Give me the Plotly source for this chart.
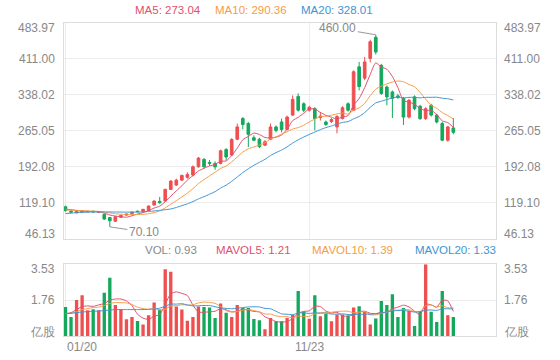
import plotly.graph_objects as go

# ---------------- data ----------------
opens = [111, 102, 98.5, 100.5, 100.5, 102, 99.5, 95.6, 89, 81.4,
         89.5, 94, 97, 102, 101.7, 103, 114.4, 121.9, 122.5, 146.2,
         155, 165, 170.6, 175.2, 192, 207, 201, 199, 199, 227,
         215.8, 248, 290, 280, 251, 248, 236, 248, 273, 283,
         268, 297, 335, 320, 307, 310, 292, 283, 284, 273,
         290, 320, 307, 395, 372, 412, 455, 398, 354, 344,
         336, 331, 293, 334, 315, 290, 317, 297, 280, 246, 271]
highs = [113, 103.5, 103, 103, 102.5, 102.5, 101.5, 97, 90, 91.5,
         94.5, 97, 101, 103, 106.5, 113.5, 124, 131, 147.5, 165,
         168, 176, 181, 195, 212, 210, 206, 203, 227, 230,
         250, 280, 293, 283, 256, 251, 246, 280, 276, 290,
         296, 337, 341, 323, 316, 313, 303, 286, 291, 297,
         315, 323, 388, 405, 415, 450, 460, 401, 357, 347,
         340, 334, 330, 337, 318, 313, 320, 300, 283, 275, 291]
lows = [101, 99.5, 98, 100, 99.5, 99.5, 98.5, 84, 70.1, 80,
        88.5, 93, 96.5, 100, 101, 102.5, 113.5, 117, 121.5, 145,
        153, 163.5, 168, 173, 190.5, 190, 194, 186, 197, 205,
        214, 246, 268, 232, 244, 230, 234, 246, 262, 262,
        266, 295, 304, 303, 304, 266, 286, 275, 281, 260,
        288, 304, 305, 347, 368, 404, 420, 338, 317, 291,
        330, 277, 290, 307, 287, 287, 294, 280, 244, 243, 258]
closes = [103, 100, 102, 102, 101.5, 100.5, 100.5, 86, 82.6, 90.7,
          93.5, 96, 100, 101, 105.7, 112.4, 122.5, 119.1, 146.2, 163,
          165, 174.6, 176.5, 192, 209.7, 192, 199, 192, 224.5, 212,
          247.6, 273, 278, 258, 246, 233, 243, 273, 266, 268,
          293, 329, 307, 307, 313, 290, 295, 278, 288, 294,
          312, 307, 385, 355, 405, 446, 425, 341, 334, 331,
          333, 293, 327, 310, 290, 310, 297, 283, 246, 273, 262]

ma5 = [106, 105, 103.5, 102, 101.7, 101.2, 101.3, 98, 94.2, 92.1,
       90.6, 89.8, 92.6, 96.2, 99.2, 103, 108.3, 112.1, 121.2, 132.6,
       143.2, 153.6, 165.1, 174.2, 183.6, 189, 193.8, 196.9, 203.4, 203.9,
       215, 229.8, 247, 253.7, 260.5, 257.6, 251.6, 250.6, 252.2, 256.6,
       268.6, 285.8, 292.6, 300.8, 309.8, 309.2, 302.4, 296.6, 292.8, 289,
       293.4, 295.8, 317.2, 330.6, 352.8, 379.6, 403.2, 394.4, 390.2, 375.4,
       352.8, 326.4, 323.6, 318.8, 310.6, 306, 306.8, 298, 285.2, 281.8, 272.2]
ma10 = [104.5, 104, 103.5, 103, 102.5, 102, 101.5, 100, 98.5, 96.8,
        95.8, 95.4, 95.2, 95.2, 95.6, 96.8, 99, 102.4, 108.8, 116,
        123.1, 131, 138.7, 147.7, 158.1, 166.1, 173.7, 181, 188.8, 193.7,
        202, 211.8, 222, 228.6, 232.2, 236.3, 240.7, 248.8, 253, 258.6,
        263.1, 268.7, 271.6, 276.5, 283.2, 288.9, 294.1, 294.6, 296.8, 299.4,
        301.3, 299.1, 306.9, 311.7, 320.9, 336.5, 349.5, 355.8, 360.4, 364.1,
        366.2, 364.8, 359, 354.5, 343, 329.4, 316.6, 310.8, 302, 296.2, 289.1]
ma20 = [97, 98, 99, 99.5, 100, 100.3, 100.5, 100.5, 100.4, 100.3,
        100.2, 100.1, 100.1, 100.2, 100.6, 101.3, 102.5, 103.6, 105, 106.4,
        109.5, 113.2, 116.9, 121.5, 126.9, 131.5, 136.4, 141.7, 148.8, 154.9,
        162.6, 171.4, 180.3, 188.1, 195.2, 201.2, 207.2, 214.9, 220.9, 226.1,
        232.5, 240.3, 246.8, 252.5, 257.7, 262.6, 267.4, 271.7, 274.9, 279,
        282.2, 283.9, 289.3, 294.2, 302.1, 312.7, 321.8, 325.2, 328.6, 331.8,
        333.8, 331.9, 333, 333.1, 332, 333, 333.1, 333.3, 331.3, 330.2, 327.7]

volumes = [1.43, 0.94, 1.77, 2.01, 1.27, 1.32, 1.27, 2.13, 2.87, 1.52,
           1.32, 0.83, 0.94, 0.74, 0.56, 1.02, 1.65, 1.30, 3.28, 3.16,
           1.45, 1.30, 0.75, 0.94, 1.45, 1.43, 1.40, 0.89, 1.60, 1.14,
           0.94, 1.52, 1.38, 1.38, 0.84, 0.78, 0.33, 0.89, 0.73, 0.73,
           0.88, 1.05, 2.21, 1.20, 0.85, 2.01, 0.97, 1.10, 0.73, 1.06,
           1.06, 1.00, 1.40, 1.47, 1.19, 0.56, 0.86, 1.72, 1.52, 2.05,
           0.94, 1.38, 1.24, 0.49, 1.19, 3.53, 1.19, 0.69, 2.21, 1.02, 0.93]
mavol5 = [1.10, 1.15, 1.30, 1.45, 1.48, 1.46, 1.53, 1.60, 1.77, 1.82,
          1.82, 1.73, 1.50, 1.07, 0.88, 0.82, 0.98, 1.05, 1.56, 2.08,
          2.17, 2.10, 1.99, 1.52, 1.18, 1.17, 1.19, 1.22, 1.35, 1.29,
          1.19, 1.22, 1.32, 1.27, 1.21, 1.18, 0.94, 0.84, 0.71, 0.69,
          0.71, 0.86, 1.12, 1.21, 1.24, 1.46, 1.45, 1.23, 1.13, 1.17,
          0.98, 0.99, 1.05, 1.20, 1.22, 1.12, 1.10, 1.16, 1.17, 1.34,
          1.42, 1.52, 1.43, 1.22, 1.05, 1.57, 1.53, 1.42, 1.76, 1.73, 1.21]
mavol10 = [1.10, 1.12, 1.20, 1.30, 1.35, 1.40, 1.42, 1.50, 1.60, 1.65,
           1.64, 1.63, 1.55, 1.42, 1.35, 1.32, 1.36, 1.28, 1.32, 1.48,
           1.49, 1.54, 1.52, 1.54, 1.63, 1.67, 1.65, 1.61, 1.44, 1.24,
           1.18, 1.21, 1.27, 1.31, 1.25, 1.19, 1.08, 1.08, 0.99, 0.95,
           0.95, 0.90, 0.98, 0.96, 0.97, 1.09, 1.15, 1.17, 1.17, 1.21,
           1.22, 1.22, 1.14, 1.17, 1.20, 1.05, 1.04, 1.11, 1.18, 1.28,
           1.27, 1.31, 1.29, 1.20, 1.20, 1.49, 1.53, 1.42, 1.49, 1.39, 1.39]
mavol20 = [1.10, 1.12, 1.15, 1.18, 1.20, 1.22, 1.23, 1.25, 1.28, 1.30,
           1.30, 1.30, 1.30, 1.30, 1.30, 1.31, 1.33, 1.37, 1.47, 1.57,
           1.57, 1.59, 1.53, 1.48, 1.49, 1.50, 1.50, 1.44, 1.38, 1.36,
           1.34, 1.37, 1.40, 1.43, 1.44, 1.43, 1.36, 1.34, 1.22, 1.09,
           1.07, 1.05, 1.13, 1.14, 1.11, 1.14, 1.12, 1.13, 1.08, 1.08,
           1.09, 1.06, 1.06, 1.06, 1.08, 1.07, 1.10, 1.14, 1.18, 1.24,
           1.25, 1.26, 1.22, 1.18, 1.20, 1.27, 1.28, 1.26, 1.34, 1.34, 1.33]

x_tick_idx = [0, 44]
x_tick_text = ["01/20", "11/23"]
price_ticks = [46.13, 119.10, 192.08, 265.05, 338.02, 411.00, 483.97]
price_tick_text = ["46.13", "119.10", "192.08", "265.05", "338.02", "411.00", "483.97"]
vol_ticks = [0, 1.76, 3.53]
vol_tick_text = ["亿股", "1.76", "3.53"]

ma_legend = ["MA5: 273.04", "MA10: 290.36", "MA20: 328.01"]
vol_legend = ["VOL: 0.93", "MAVOL5: 1.21", "MAVOL10: 1.39", "MAVOL20: 1.33"]
high_label = "460.00"
low_label = "70.10"

# ---------------- style ----------------
UP = "#ef4f4f"
DOWN = "#14a85c"
C5 = "#e0506d"
C10 = "#f59c45"
C20 = "#3d94d4"
GRAY = "#888888"
GRID = "#ececec"
BORDER = "#dcdcdc"
FONT = "Liberation Sans, Arial, sans-serif"

idx = list(range(len(closes)))
XR = [-0.27, 77.7]

fig = go.Figure()
fig.add_trace(go.Candlestick(
    x=idx, open=opens, high=highs, low=lows, close=closes,
    increasing=dict(line=dict(color=UP, width=1), fillcolor=UP),
    decreasing=dict(line=dict(color=DOWN, width=1), fillcolor=DOWN),
    whiskerwidth=0, xaxis="x", yaxis="y", showlegend=False, hoverinfo="skip"))
for vals, col in [(ma5, C5), (ma10, C10), (ma20, C20)]:
    fig.add_trace(go.Scatter(x=idx, y=vals, mode="lines",
                             line=dict(color=col, width=1, shape="spline", smoothing=0.6),
                             xaxis="x", yaxis="y", showlegend=False, hoverinfo="skip"))

bar_colors = [UP if c >= o else DOWN for o, c in zip(opens, closes)]
fig.add_trace(go.Bar(x=idx, y=volumes, marker=dict(color=bar_colors, line=dict(width=0)),
                     width=0.6, xaxis="x2", yaxis="y2", showlegend=False, hoverinfo="skip"))
for vals, col in [(mavol5, C5), (mavol10, C10), (mavol20, C20)]:
    fig.add_trace(go.Scatter(x=idx, y=vals, mode="lines",
                             line=dict(color=col, width=1, shape="spline", smoothing=0.6),
                             xaxis="x2", yaxis="y2", showlegend=False, hoverinfo="skip"))

axis_common = dict(showline=True, linecolor=BORDER, linewidth=1, mirror=True,
                   gridcolor=GRID, gridwidth=1, zeroline=False, showticklabels=False,
                   ticks="")
fig.update_layout(
    width=560, height=360,
    margin=dict(l=64, r=64, t=23, b=24),
    paper_bgcolor="white", plot_bgcolor="white",
    font=dict(family=FONT, size=12, color=GRAY),
    boxgap=0.32,
    xaxis=dict(domain=[0, 1], range=XR, tickvals=x_tick_idx, anchor="y",
               rangeslider=dict(visible=False), **axis_common),
    yaxis=dict(domain=[0.3109, 1], range=[price_ticks[0], price_ticks[-1]],
               tickvals=price_ticks, anchor="x", **axis_common),
    xaxis2=dict(domain=[0, 1], range=XR, tickvals=x_tick_idx, anchor="y2",
                **axis_common),
    yaxis2=dict(domain=[0, 0.2291], range=[vol_ticks[0], vol_ticks[-1]],
                tickvals=vol_ticks, anchor="x2", **axis_common),
)

ann = []
def shift_for(i, n):
    if i == 0:
        return 4.5
    if i == n - 1:
        return -5
    return 0

for i, (v, t) in enumerate(zip(price_ticks, price_tick_text)):
    s = shift_for(i, len(price_ticks))
    ann.append(dict(xref="paper", yref="y", x=0, y=v, text=t, showarrow=False,
                    xanchor="right", yanchor="middle", xshift=-7, yshift=s))
    ann.append(dict(xref="paper", yref="y", x=1, y=v, text=t, showarrow=False,
                    xanchor="left", yanchor="middle", xshift=6, yshift=s))
for i, (v, t) in enumerate(zip(vol_ticks, vol_tick_text)):
    s = shift_for(i, len(vol_ticks))
    ann.append(dict(xref="paper", yref="y2", x=0, y=v, text=t, showarrow=False,
                    xanchor="right", yanchor="middle", xshift=-7, yshift=s))
    ann.append(dict(xref="paper", yref="y2", x=1, y=v, text=t, showarrow=False,
                    xanchor="left", yanchor="middle", xshift=6, yshift=s))

for k, (xi, t) in enumerate(zip(x_tick_idx, x_tick_text)):
    ann.append(dict(xref="x2", yref="paper", x=xi, y=-0.034, text=t, showarrow=False,
                    xanchor="left" if k == 0 else "center", yanchor="middle",
                    xshift=-1 if k == 0 else 0))

def px_x(px):
    return (px - 64) / 432.0

def px_y(py):
    return (336 - py) / 313.0

for t, col, left in zip(ma_legend, [C5, C10, C20], [132.7, 212.7, 299.3]):
    ann.append(dict(xref="paper", yref="paper", x=px_x(left), y=px_y(10), text=t,
                    showarrow=False, xanchor="left", yanchor="middle",
                    font=dict(size=11.5, color=col)))
for t, col, left in zip(vol_legend, [GRAY, C5, C10, C20], [142.7, 214, 310, 412.7]):
    ann.append(dict(xref="paper", yref="paper", x=px_x(left), y=px_y(250), text=t,
                    showarrow=False, xanchor="left", yanchor="middle",
                    font=dict(size=11.5, color=col)))

hi_i = highs.index(max(highs))
lo_i = lows.index(min(lows))
ann.append(dict(xref="x", yref="y", x=hi_i, y=highs[hi_i], text=high_label,
                showarrow=True, arrowhead=0, arrowwidth=1, arrowcolor="#999999",
                ax=-38, ay=-6.5, font=dict(size=12, color=GRAY)))
ann.append(dict(xref="x", yref="y", x=lo_i, y=lows[lo_i], text=low_label,
                showarrow=True, arrowhead=0, arrowwidth=1, arrowcolor="#999999",
                ax=34, ay=5, font=dict(size=12, color=GRAY)))

fig.update_layout(annotations=ann)
fig.write_html("out.html",
               config={"displayModeBar": False, "staticPlot": True},
               post_script="document.body.style.margin='0px';document.body.style.padding='0px';")
